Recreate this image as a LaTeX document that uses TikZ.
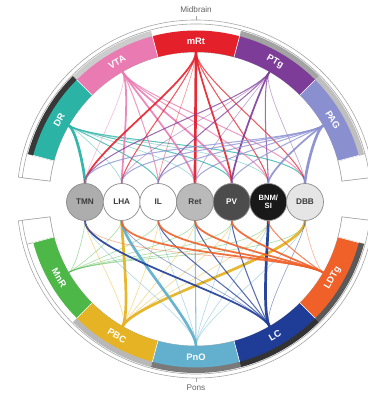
\documentclass[tikz,border=0pt]{standalone}
\usepackage{fontspec}
\setmainfont{Liberation Sans}
\usetikzlibrary{backgrounds}
\definecolor{cDR}{HTML}{2BB3A6}
\definecolor{cVTA}{HTML}{EA7BB2}
\definecolor{cmRt}{HTML}{E4202A}
\definecolor{cPTg}{HTML}{7D3C98}
\definecolor{cPAG}{HTML}{8A8FD0}
\definecolor{cMnR}{HTML}{4DB748}
\definecolor{cPBC}{HTML}{E6B325}
\definecolor{cPnO}{HTML}{62B0CE}
\definecolor{cLC}{HTML}{1F3C96}
\definecolor{cLDTg}{HTML}{F0612A}
\definecolor{ringline}{HTML}{A5A5A5}
\definecolor{nodeline}{HTML}{8C8C8C}
\definecolor{txtgray}{HTML}{3C3C3C}
\newcommand{\annsec}[5]{\path[#5] (#1:#3) arc[start angle=#1,end angle=#2,radius=#3] -- (#2:#4) arc[start angle=#2,end angle=#1,radius=#4] -- cycle;}
\tikzset{
  region/.style={draw=none},
  envelope/.style={fill=white,draw=ringline,line width=0.5pt},
  seglabel/.style={text=white,font=\fontsize{8}{8.5}\selectfont\bfseries,inner sep=0pt},
  hub/.style={circle,minimum size=11.1mm,inner sep=0pt,draw=nodeline,line width=0.6pt,font=\fontsize{7}{7.5}\selectfont\bfseries,text=txtgray,align=center},
  grouplabel/.style={text=txtgray!80,font=\fontsize{7}{7}\selectfont,inner sep=0pt},
  w1/.style={line width=0.6pt,draw opacity=0.45},
  w2/.style={line width=0.9pt,draw opacity=0.75},
  w3/.style={line width=1.5pt,draw opacity=0.9},
  w4/.style={line width=2.3pt,draw opacity=0.95},
  loose/.style={looseness=0.4}
}
\begin{document}
\begin{tikzpicture}[x=0.3mm,y=0.3mm]
\useasboundingbox (-196,-199) rectangle (171,199);
% hub nodes
\node[hub,fill=black!32] (TMN) at (-111,-3) {TMN};
\node[hub,fill=white] (LHA) at (-74.3,-3) {LHA};
\node[hub,fill=white] (IL) at (-37.7,-3) {IL};
\node[hub,fill=black!27] (Ret) at (-1,-3) {Ret};
\node[hub,fill=black!70,text=white] (PV) at (35.7,-3) {PV};
\node[hub,fill=black!90,text=white,font=\fontsize{6.5}{7}\selectfont\bfseries] (BNM) at (72.3,-3) {BNM/\\SI};
\node[hub,fill=black!10] (DBB) at (109,-3) {DBB};
% segment anchors
\coordinate (sDR) at (150:147);
\coordinate (sVTA) at (120:147);
\coordinate (smRt) at (90:147);
\coordinate (sPTg) at (60:147);
\coordinate (sPAG) at (30:147);
\coordinate (sMnR) at (210:147);
\coordinate (sPBC) at (240:147);
\coordinate (sPnO) at (270:147);
\coordinate (sLC) at (300:147);
\coordinate (sLDTg) at (330:147);
\begin{pgfonlayer}{background}
% envelopes
\annsec{7}{173}{147}{179}{envelope}
\annsec{187}{353}{147}{179}{envelope}
\annsec{165}{173}{147}{175}{envelope}
\annsec{7}{15}{147}{175}{envelope}
\annsec{187}{195}{147}{175}{envelope}
\annsec{345}{353}{147}{175}{envelope}
\draw[ringline,line width=0.5pt] (15:175) arc[start angle=15,end angle=165,radius=175];
\draw[ringline,line width=0.5pt] (195:175) arc[start angle=195,end angle=345,radius=175];
% strips
\annsec{135}{165}{168}{174}{fill=black!78}
\annsec{105}{135}{168}{174}{fill=black!20}
\annsec{45}{75}{168}{174}{fill=black!36}
\annsec{15}{45}{168}{174}{fill=black!25}
\annsec{225}{255}{168}{174}{fill=black!28}
\annsec{255}{285}{168}{174}{fill=black!52}
\annsec{285}{315}{168}{174}{fill=black!80}
\annsec{315}{345}{168}{174}{fill=black!65}
% coloured regions
\annsec{135}{165}{147}{168.5}{fill=cDR}
\annsec{105}{135}{147}{168.5}{fill=cVTA}
\annsec{75}{105}{147}{168.5}{fill=cmRt}
\annsec{45}{75}{147}{168.5}{fill=cPTg}
\annsec{15}{45}{147}{168.5}{fill=cPAG}
\annsec{195}{225}{147}{168.5}{fill=cMnR}
\annsec{225}{255}{147}{168.5}{fill=cPBC}
\annsec{255}{285}{147}{168.5}{fill=cPnO}
\annsec{285}{315}{147}{168.5}{fill=cLC}
\annsec{315}{345}{147}{168.5}{fill=cLDTg}
% thin separators
\foreach \a in {15,45,75,105,135,165,195,225,255,285,315,345}
  \draw[white,line width=0.5pt] (\a:147) -- (\a:168.5);
% ticks
\draw[ringline,line width=0.5pt] (90:179) -- (90:183);
\draw[ringline,line width=0.5pt] (270:179) -- (270:183);
% chords, top
\foreach \t/\w in {LHA/w1,IL/w2,Ret/w1,PV/w2,BNM/w1,DBB/w2,TMN/w4}
  \draw[cDR,\w] (sDR) to[out=330,in=90,loose] (\t.north);
\foreach \t/\w in {TMN/w1,LHA/w3,IL/w2,Ret/w3,PV/w3,BNM/w2,DBB/w2}
  \draw[cVTA,\w] (sVTA) to[out=300,in=90,loose] (\t.north);
\foreach \t/\w in {TMN/w3,LHA/w2,IL/w1,Ret/w4,PV/w3,BNM/w2,DBB/w2}
  \draw[cmRt,\w] (smRt) to[out=270,in=90,loose] (\t.north);
\foreach \t/\w in {TMN/w2,LHA/w1,IL/w2,Ret/w1,PV/w3,BNM/w2,DBB/w1}
  \draw[cPTg,\w] (sPTg) to[out=240,in=90,loose] (\t.north);
\foreach \t/\w in {TMN/w2,LHA/w2,IL/w2,Ret/w2,PV/w2,BNM/w3,DBB/w4}
  \draw[cPAG,\w] (sPAG) to[out=210,in=90,loose] (\t.north);
% chords, bottom
\foreach \t/\w in {TMN/w1,LHA/w1,IL/w1,Ret/w1,PV/w1,BNM/w1,DBB/w1}
  \draw[cMnR,\w] (sMnR) to[out=30,in=-90,loose] (\t.south);
\foreach \t/\w in {TMN/w1,IL/w1,Ret/w1,PV/w1,BNM/w1,LHA/w4,DBB/w4}
  \draw[cPBC,\w] (sPBC) to[out=60,in=-90,loose] (\t.south);
\foreach \t/\w in {TMN/w1,IL/w1,Ret/w2,PV/w1,BNM/w1,DBB/w1,LHA/w4}
  \draw[cPnO,\w] (sPnO) to[out=90,in=-90,loose] (\t.south);
\foreach \t/\w in {LHA/w1,IL/w2,Ret/w2,PV/w2,DBB/w1,TMN/w3,BNM/w4}
  \draw[cLC,\w] (sLC) to[out=120,in=-90,loose] (\t.south);
\foreach \t/\w in {TMN/w1,BNM/w2,DBB/w1,LHA/w3,IL/w3,Ret/w3,PV/w3}
  \draw[cLDTg,\w] (sLDTg) to[out=150,in=-90,loose] (\t.south);
\end{pgfonlayer}
% region labels
\node[seglabel,rotate=60] (lDR) at (150:158) {DR};
\node[seglabel,rotate=30] (lVTA) at (120:158) {VTA};
\node[seglabel,rotate=0] (lmRt) at (90:158) {mRt};
\node[seglabel,rotate=-30] (lPTg) at (60:158) {PTg};
\node[seglabel,rotate=-60] (lPAG) at (30:158) {PAG};
\node[seglabel,rotate=-60] (lMnR) at (210:158) {MnR};
\node[seglabel,rotate=-30] (lPBC) at (240:158) {PBC};
\node[seglabel,rotate=0] (lPnO) at (270:158) {PnO};
\node[seglabel,rotate=30] (lLC) at (300:158) {LC};
\node[seglabel,rotate=60] (lLDTg) at (330:158) {LDTg};
\node[grouplabel] (mid) at (0,189) {Midbrain};
\node[grouplabel] (pons) at (0,-189) {Pons};
\end{tikzpicture}
\end{document}
